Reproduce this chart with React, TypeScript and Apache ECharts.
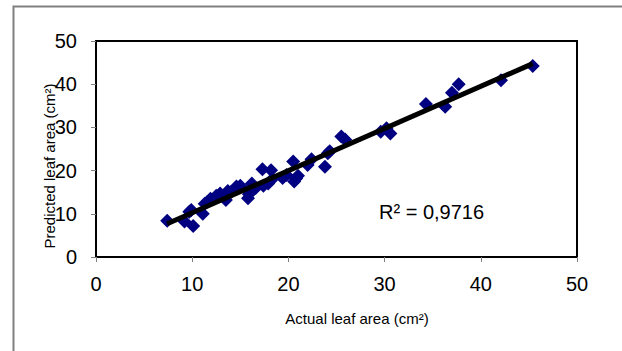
import React, { useEffect, useRef } from "react";
import * as echarts from "echarts";

const actualArea = [7.4, 9.2, 9.7, 10.1, 9.9, 11.1, 11.3, 11.6, 11.9, 12.5, 12.9, 13.5, 13.7, 14.0, 14.6, 15.0, 15.8, 15.9, 16.2, 16.6, 17.3, 17.4, 17.9, 18.2, 18.3, 19.4, 19.8, 20.5, 20.6, 20.8, 21.0, 22.0, 22.4, 23.8, 24.1, 24.3, 25.5, 25.9, 29.6, 30.2, 30.6, 34.3, 36.3, 37.0, 37.7, 42.1, 45.4];
const predictedArea = [8.4, 8.2, 10.5, 7.2, 10.9, 10.0, 12.3, 12.8, 13.5, 14.2, 14.7, 13.2, 15.3, 15.0, 16.3, 16.5, 13.6, 14.5, 17.0, 16.0, 20.3, 16.5, 17.0, 20.1, 18.0, 18.3, 19.0, 22.1, 17.5, 18.2, 18.8, 21.3, 22.6, 20.9, 24.0, 24.5, 27.9, 27.2, 29.0, 29.8, 28.6, 35.4, 34.8, 38.0, 40.0, 40.9, 44.2];
const xTicks = [0, 10, 20, 30, 40, 50];
const yTicks = [0, 10, 20, 30, 40, 50];
const xTitle = "Actual leaf area (cm²)";
const yTitle = "Predicted leaf area (cm²)";
const r2Label = "R² = 0,9716";

function fitLine(xs: number[], ys: number[]) {
  const n = xs.length;
  const mx = xs.reduce((a, b) => a + b, 0) / n;
  const my = ys.reduce((a, b) => a + b, 0) / n;
  let sxy = 0, sxx = 0;
  for (let i = 0; i < n; i++) {
    sxy += (xs[i] - mx) * (ys[i] - my);
    sxx += (xs[i] - mx) * (xs[i] - mx);
  }
  const slope = sxy / sxx;
  const intercept = my - slope * mx;
  const x0 = Math.min(...xs);
  const x1 = Math.max(...xs);
  return [
    [x0, intercept + slope * x0],
    [x1, intercept + slope * x1],
  ];
}

export default function App() {
  const ref = useRef<HTMLDivElement>(null);
  useEffect(() => {
    if (!ref.current) return;
    const chart = echarts.init(ref.current, null, { renderer: "svg" });
    const font = "'Liberation Sans', Arial, sans-serif";
    const points = actualArea.map((x, i) => [x, predictedArea[i]]);
    const trend = fitLine(actualArea, predictedArea);
    chart.setOption({
      animation: false,
      backgroundColor: "#ffffff",
      grid: {
        left: 96,
        top: 41,
        width: 481,
        height: 216,
        show: true,
        borderColor: "#000000",
        borderWidth: 2,
        backgroundColor: "transparent",
      },
      xAxis: {
        type: "value",
        min: xTicks[0],
        max: xTicks[xTicks.length - 1],
        interval: 10,
        splitLine: { show: false },
        axisLine: { show: true, onZero: false, lineStyle: { color: "#000", width: 2 } },
        axisTick: { show: true, length: 5, lineStyle: { color: "#808080", width: 1 } },
        axisLabel: { fontSize: 20, color: "#000", fontFamily: font, margin: 17 },
      },
      yAxis: {
        type: "value",
        min: yTicks[0],
        max: yTicks[yTicks.length - 1],
        interval: 10,
        splitLine: { show: false },
        axisLine: { show: true, onZero: false, lineStyle: { color: "#000", width: 2 } },
        axisTick: { show: true, length: 5, lineStyle: { color: "#808080", width: 1 } },
        axisLabel: { fontSize: 20, color: "#000", fontFamily: font, margin: 19 },
      },
      series: [
        {
          type: "scatter",
          data: points,
          symbol: "diamond",
          symbolSize: 14,
          itemStyle: { color: "#000080", opacity: 1 },
          z: 2,
        },
        {
          type: "line",
          data: trend,
          showSymbol: false,
          symbol: "none",
          lineStyle: { color: "#000", width: 5 },
          z: 3,
        },
      ],
      graphic: [
        {
          type: "rect",
          shape: { x: 13.5, y: 6.5, width: 700, height: 400 },
          style: { fill: "none", stroke: "#808080", lineWidth: 2 },
          z: 0,
        },
        {
          type: "text",
          x: 357,
          y: 318,
          style: {
            text: xTitle,
            fontSize: 15,
            fontFamily: font,
            fill: "#000",
            align: "center",
            verticalAlign: "middle",
          },
        },
        {
          type: "text",
          x: 49,
          y: 166,
          rotation: Math.PI / 2,
          style: {
            text: yTitle,
            fontSize: 15,
            fontFamily: font,
            fill: "#000",
            align: "center",
            verticalAlign: "middle",
          },
        },
        {
          type: "text",
          x: 379,
          y: 212,
          style: {
            text: r2Label,
            fontSize: 20,
            fontFamily: font,
            fill: "#000",
            align: "left",
            verticalAlign: "middle",
          },
          z: 10,
        },
      ],
    });
    return () => chart.dispose();
  }, []);
  return (
    <div
      ref={ref}
      style={{ position: "absolute", left: 0, top: 0, width: 622, height: 351 }}
    />
  );
}
